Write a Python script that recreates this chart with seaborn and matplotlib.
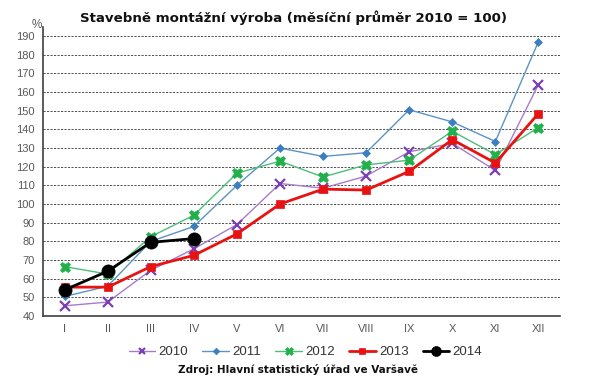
import numpy as np
import pandas as pd
import matplotlib
matplotlib.use("Agg")
import matplotlib.pyplot as plt
import seaborn as sns

months = ["I", "II", "III", "IV", "V", "VI", "VII", "VIII", "IX", "X", "XI", "XII"]
v2010 = [45.5, 47.5, 64.5, 76, 89, 111, 108.5, 115, 128, 132.5, 118, 164]
v2011 = [50.5, 56, 80, 88, 110, 130, 125.5, 127.5, 150.5, 144, 133.5, 187]
v2012 = [66.5, 62.5, 82.5, 94, 116.5, 123, 114.5, 121, 123.5, 139, 126.5, 141]
v2013 = [55.5, 55.5, 66.5, 72.5, 84, 100, 108, 107.5, 117.5, 134.5, 122, 148.5]
v2014 = [54, 64, 79.5, 81.5]

years = ["2010", "2011", "2012", "2013", "2014"]
series = [v2010, v2011, v2012, v2013, v2014]

rows = []
for y, vals in zip(years, series):
    for i, v in enumerate(vals):
        rows.append({"year": y, "month": i, "value": v})
df = pd.DataFrame(rows)

sns.set_theme(style="white")
plt.rcParams['font.family'] = ['Liberation Sans', 'DejaVu Sans']

fig = plt.figure(figsize=(6, 3.79), dpi=100)
ax = fig.add_axes([0.0717, 0.166, 0.8616, 0.7636])

styles = {
    "2010": dict(color="#7B3FB5", marker="x", lw=1.0, ms=6.5, mew=1.6),
    "2011": dict(color="#3C7FC0", marker="D", lw=1.0, ms=4.5, mew=0.5),
    "2012": dict(color="#22B04B", marker="X", lw=1.0, ms=7.5, mew=0.5),
    "2013": dict(color="#E81212", marker="s", lw=2.0, ms=6, mew=0.5),
    "2014": dict(color="#000000", marker="o", lw=2.0, ms=9.5, mew=0.5),
}
line_colors = {"2010": "#A77BCB", "2011": "#5B93C4", "2012": "#4DBE78",
               "2013": "#E81212", "2014": "#000000"}

handles = []
for y in years:
    st = styles[y]
    sub = df[df.year == y]
    sns.lineplot(data=sub, x="month", y="value", ax=ax, color=line_colors[y],
                 lw=st["lw"], marker=st["marker"], markersize=st["ms"],
                 markeredgewidth=st["mew"], markerfacecolor=st["color"],
                 markeredgecolor=st["color"], legend=False, zorder=3)
    h, = ax.plot([], [], color=line_colors[y], lw=st["lw"], marker=st["marker"],
                 markersize=st["ms"] * 0.75, markeredgewidth=st["mew"],
                 markerfacecolor=st["color"], markeredgecolor=st["color"])
    handles.append(h)

ax.set_xlim(-0.5, 11.5)
ax.set_ylim(40, 195)
ax.set_yticks(np.arange(40, 191, 10))
ax.set_xticks(range(12))
ax.set_xticklabels(months)
ax.set_xticks(np.arange(-0.5, 12, 1), minor=True)
ax.tick_params(axis="x", which="major", length=0, labelsize=8, colors="#595959", pad=6)
ax.tick_params(axis="x", which="minor", length=4, width=1, color="#404040", direction="out")
ax.tick_params(axis="y", which="major", length=4, width=1, color="#404040",
               direction="out", labelsize=8, labelcolor="#595959", pad=2)
ax.set_xlabel("")
ax.set_ylabel("")
for y in np.arange(50, 191, 10):
    ax.axhline(y, color="#505050", lw=0.7, ls=(0, (2.2, 1.4)), zorder=1)
for s in ["top", "right"]:
    ax.spines[s].set_visible(False)
for s in ["left", "bottom"]:
    ax.spines[s].set_color("#404040")
    ax.spines[s].set_linewidth(1.2)

fig.text(0.49, 0.953, "Stavebně montážní výroba (měsíční průměr 2010 = 100)",
         ha="center", va="center", fontsize=9.6, fontweight="bold",
         family=["DejaVu Sans"], color="#111111")
fig.text(0.062, 0.935, "%", ha="center", va="center", fontsize=8.5, color="#595959")

fig.legend(handles, years, loc="center", bbox_to_anchor=(0.509, 0.071), ncol=5,
           frameon=False, fontsize=9.5, handlelength=2.0, columnspacing=1.1,
           handletextpad=0.25, labelcolor="#333333")
fig.text(0.497, 0.024, "Zdroj: Hlavní statistický úřad ve Varšavě", ha="center",
         va="center", fontsize=7.5, fontweight="bold", family=["DejaVu Sans"],
         color="#111111")

fig.savefig("out.png", dpi=100)
